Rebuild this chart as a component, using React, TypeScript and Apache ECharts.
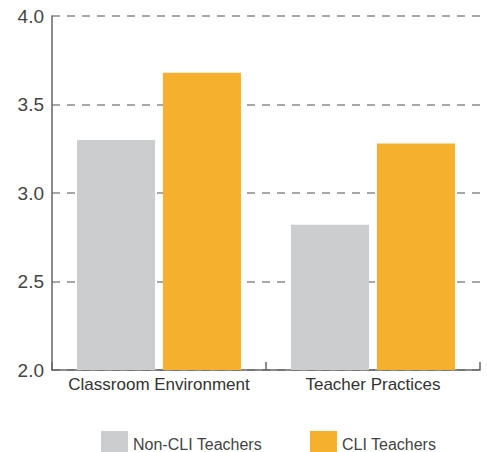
import React, { useEffect, useRef } from "react";
import * as echarts from "echarts";

const categories = ["Classroom Environment", "Teacher Practices"];
const nonCliValues = [3.3, 2.82];
const cliValues = [3.68, 3.28];
const seriesNames = ["Non-CLI Teachers", "CLI Teachers"];

const FONT = "'Liberation Sans', Arial, Helvetica, sans-serif";

export default function App() {
  const ref = useRef<HTMLDivElement>(null);
  useEffect(() => {
    document.body.style.margin = "0";
    const chart = echarts.init(ref.current!, null, { renderer: "svg" });
    chart.setOption({
      animation: false,
      textStyle: { fontFamily: FONT },
      grid: { left: 52, right: 7, top: 16, bottom: 82 },
      legend: {
        left: 96,
        top: 426,
        icon: "rect",
        itemWidth: 27,
        itemHeight: 26,
        itemGap: 48,
        textStyle: { fontSize: 16, color: "#444", fontFamily: FONT },
        data: seriesNames,
      },
      xAxis: {
        type: "category",
        data: categories,
        axisLine: { lineStyle: { color: "#666", width: 1.5 } },
        axisTick: { show: true, inside: true, length: 8, interval: 0, lineStyle: { color: "#666", width: 1.5 } },
        axisLabel: { fontSize: 17, color: "#333", margin: 6, interval: 0, fontFamily: FONT },
      },
      yAxis: {
        type: "value",
        min: 2,
        max: 4,
        interval: 0.5,
        axisLine: { show: true, lineStyle: { color: "#666", width: 1.5 } },
        axisTick: { show: false },
        axisLabel: {
          fontSize: 19,
          color: "#444",
          margin: 8,
          fontFamily: FONT,
          formatter: (v: number) => v.toFixed(1),
        },
        splitLine: {
          show: true,
          lineStyle: { color: "#8a8a8a", width: 1.5, type: [8, 7] },
        },
      },
      series: [
        {
          name: seriesNames[0],
          type: "bar",
          data: nonCliValues,
          itemStyle: { color: "#cccdcf" },
          barGap: "10%",
          barCategoryGap: "23.4%",
        },
        {
          name: seriesNames[1],
          type: "bar",
          data: cliValues,
          itemStyle: { color: "#f5b12e" },
          barGap: "10%",
          barCategoryGap: "23.4%",
        },
      ],
    });
    return () => chart.dispose();
  }, []);
  return <div ref={ref} style={{ width: 487, height: 452 }} />;
}
